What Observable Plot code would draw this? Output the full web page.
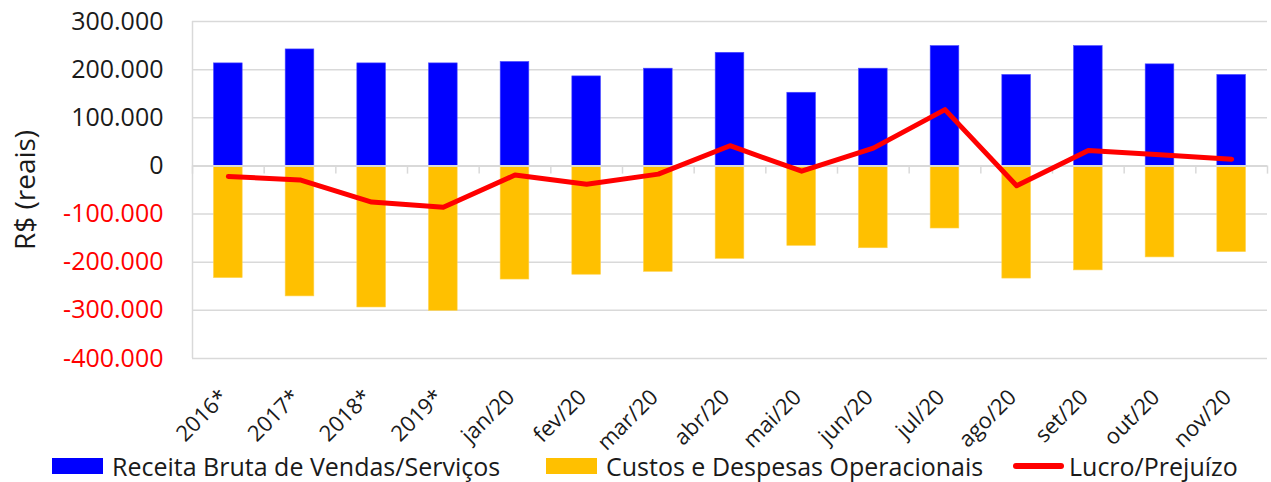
<!DOCTYPE html>
<html>
<head>
<meta charset="utf-8">
<script src="https://cdn.jsdelivr.net/npm/d3@7"></script>
<script src="https://cdn.jsdelivr.net/npm/@observablehq/plot@0.6"></script>
<style>
  html, body { margin: 0; padding: 0; background: #fff; }
  #wrap { position: relative; width: 1271px; height: 482px; overflow: hidden; font-family: "Open Sans", sans-serif; }
  #legend { position: absolute; left: 0; top: 447px; width: 1271px; height: 37px; color: #1a1a1a; font-size: 25px; }
  .item { position: absolute; top: 0; height: 37px; display: flex; align-items: center; white-space: nowrap; }
  .sw { display: inline-block; width: 51px; height: 16px; margin-right: 9px; }
  .ln { display: inline-block; width: 51px; height: 6px; border-radius: 3px; margin-right: 5px; }
</style>
</head>
<body>
<div id="wrap">
  <div id="chart"></div>
  <div id="legend"></div>
</div>
<script>
const categories = ["2016*", "2017*", "2018*", "2019*", "jan/20", "fev/20", "mar/20", "abr/20", "mai/20", "jun/20", "jul/20", "ago/20", "set/20", "out/20", "nov/20"];
const receita = [213000, 242000, 213000, 213000, 216000, 186000, 202000, 235000, 152000, 202000, 249000, 189000, 249000, 211000, 189000];
const custos = [-233000, -271000, -294000, -301000, -236000, -226000, -220000, -193000, -166000, -171000, -130000, -234000, -217000, -190000, -179000];
const lucro = [-22000, -29000, -75000, -86000, -19000, -38000, -17000, 42000, -11000, 37000, 117000, -41000, 32000, 23000, 14000];
const yTicks = [300000, 200000, 100000, 0, -100000, -200000, -300000, -400000];
const seriesNames = ["Receita Bruta de Vendas/Serviços", "Custos e Despesas Operacionais", "Lucro/Prejuízo"];
const yTitle = "R$ (reais)";

const W = 1271, H = 445, ML = 192, MR = 4, MT = 21, MB = 87;
const step = (W - ML - MR) / categories.length;
const fmt = d3.formatLocale({decimal: ",", thousands: ".", grouping: [3], currency: ["R$", ""], minus: "-"}).format(",");

const recData = categories.map((c, i) => ({c, v: receita[i]}));
const cusData = categories.map((c, i) => ({c, v: custos[i]}));
const lucData = categories.map((c, i) => ({c, v: lucro[i]}));

const plot = Plot.plot({
  width: W, height: H,
  marginLeft: ML, marginRight: MR, marginTop: MT, marginBottom: MB,
  style: {fontFamily: "'Open Sans', sans-serif", background: "#fff", overflow: "visible"},
  x: {type: "band", domain: categories, padding: 0, round: false, axis: null},
  y: {domain: [-400000, 300000], axis: null},
  marks: [
    Plot.ruleY(yTicks, {stroke: "#d9d9d9", strokeWidth: 1.5}),
    Plot.ruleX([categories[0]], {dx: -step / 2, y1: -400000, y2: 300000, stroke: "#d9d9d9", strokeWidth: 1.5}),
    Plot.barY(recData, {x: "c", y: "v", fill: "#0000ff", stroke: "#4d4dff", strokeWidth: 0.6, insetLeft: 21.5, insetRight: 21.5}),
    Plot.barY(cusData, {x: "c", y: "v", fill: "#ffc000", stroke: "#ffd24d", strokeWidth: 0.6, insetLeft: 21.5, insetRight: 21.5}),
    Plot.ruleY([0], {stroke: "#d9d9d9", strokeWidth: 2}),
    Plot.ruleX(categories, {x: d => d, dx: -step / 2, y1: 0, y2: -17000, stroke: "#d9d9d9", strokeWidth: 1.5}),
    Plot.ruleX([categories[categories.length - 1]], {dx: step / 2, y1: 0, y2: -17000, stroke: "#d9d9d9", strokeWidth: 1.5}),
    Plot.lineY(lucData, {x: "c", y: "v", stroke: "#ff0000", strokeWidth: 5, strokeLinejoin: "round", strokeLinecap: "round"}),
    Plot.text(yTicks, {y: d => d, text: d => fmt(d), frameAnchor: "left", textAnchor: "end", dx: -29, fill: d => d < 0 ? "#ff0000" : "#1a1a1a", fontSize: 25}),
    Plot.text([yTitle], {frameAnchor: "left", text: d => d, textAnchor: "middle", rotate: -90, dx: -166, fill: "#1a1a1a", fontSize: 28}),
    Plot.text(categories, {x: d => d, text: d => d, frameAnchor: "bottom", rotate: -45, textAnchor: "end", lineAnchor: "middle", dx: -4, dy: 35, fill: "#1a1a1a", fontSize: 22})
  ]
});
document.getElementById("chart").appendChild(plot);

const legend = document.getElementById("legend");
const items = [
  {name: seriesNames[0], type: "sw", color: "#0000ff", left: 52},
  {name: seriesNames[1], type: "sw", color: "#ffc000", left: 546},
  {name: seriesNames[2], type: "ln", color: "#ff0000", left: 1013}
];
for (const it of items) {
  const div = document.createElement("div");
  div.className = "item";
  div.style.left = it.left + "px";
  const s = document.createElement("span");
  s.className = it.type;
  s.style.background = it.color;
  div.appendChild(s);
  const t = document.createElement("span");
  t.textContent = it.name;
  div.appendChild(t);
  legend.appendChild(div);
}
</script>
</body>
</html>
